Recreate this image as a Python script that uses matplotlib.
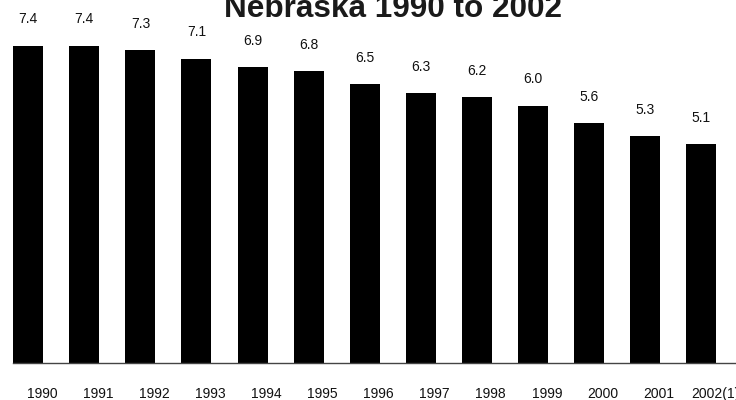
import matplotlib
matplotlib.use('Agg')
import matplotlib.pyplot as plt
import numpy as np

plt.rcParams['font.family'] = ['Liberation Sans', 'DejaVu Sans']

years = ['1990', '1991', '1992', '1993', '1994', '1995', '1996',
         '1997', '1998', '1999', '2000', '2001', '2002(1)']
values = [7.4, 7.4, 7.3, 7.1, 6.9, 6.8, 6.5, 6.3, 6.2, 6.0, 5.6, 5.3, 5.1]
title = 'Nebraska 1990 to 2002'

fig = plt.figure(figsize=(7.36, 4.0), dpi=100)
# axes runs off the right edge, like the original
ax = fig.add_axes([13.3 / 736, 37 / 400, 1 - 13.3 / 736, 363 / 400])

x = np.arange(len(years))
width = 0.535
rects = ax.bar(x, values, width=width, color='black')

ax.set_xlim(-width / 2, 12.624)
ax.set_ylim(0, 8.465)

for rect, v in zip(rects, values):
    ax.annotate('{:.1f}'.format(v),
                xy=(rect.get_x() + rect.get_width() / 2, rect.get_height()),
                xytext=(0, 16), textcoords='offset points',
                ha='center', va='baseline', fontsize=10, color='#111111')

# year labels sit a bit right of each bar
for i, lab in enumerate(years):
    ax.text(i + 0.25, -0.805, lab, ha='center', va='baseline',
            fontsize=10, color='#111111', clip_on=False)

for s in ['top', 'right', 'left']:
    ax.spines[s].set_visible(False)
ax.spines['bottom'].set_color('#444444')
ax.spines['bottom'].set_linewidth(1.0)
ax.set_xticks([])
ax.set_yticks([])

fig.text(393 / 736, (400 - 17.3) / 400, title, ha='center', va='baseline',
         fontsize=22.7, fontweight='bold', color='#1a1a1a')

fig.savefig('out.png', dpi=100)
